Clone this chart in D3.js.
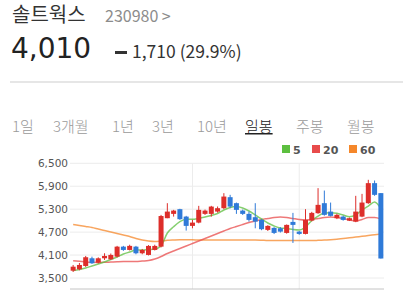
<!DOCTYPE html>
<head>
	<meta charset="utf-8">
	<script src="https://cdn.jsdelivr.net/npm/d3@7"></script>
	<style>
	    body { margin: 0; background: #fff; }
	    svg { display: block; }
	    .kr { font-family: "Noto Sans CJK KR", sans-serif; }
	    .num { font-family: "DejaVu Sans", sans-serif; }
	</style>
</head>
<body>
    <script>
        // stock header
        var stockName = "솔트웍스";
        var stockCode = "230980 >";
        var lastPrice = "4,010";
        var change = "1,710 (29.9%)";
        var tabs = ["1일", "3개월", "1년", "3년", "10년", "일봉", "주봉", "월봉"];
        var tabX = [12, 53, 112, 152, 197, 245, 296, 347];
        var activeTab = "일봉";

        // daily candles (open, high, low, close)
        var opens  = [3691,3728,3815,4016,3901,4016,3990,4058,4320,4234,4320,4147,4103,4234,4320,5064,5177,5300,5106,4863,
                      4949,5177,5177,5237,5326,5614,5457,5263,5177,5090,5020,4758,4810,4800,4679,4967,4713,4653,5001,5195,
                      5457,5237,5064,5106,5001,4975,5106,5457,5981,5720];
        var highs  = [3841,3893,4077,4058,4040,4147,4140,4340,4340,4370,4340,4260,4360,4370,5150,5457,5282,5310,5125,5020,
                      5387,5290,5387,5370,5719,5675,5473,5290,5237,5457,5040,4880,4830,4830,4900,5203,4730,5300,5230,5850,
                      5787,5473,5180,5130,5080,5649,5700,6068,6050,5720];
        var lows   = [3657,3701,3789,3867,3880,3972,3970,4040,4210,4220,4120,4120,4090,4220,4300,5064,5106,5020,4740,4800,
                      4930,5150,5106,5210,5300,5326,5177,5150,4975,4800,4750,4730,4650,4690,4660,4417,4630,4640,4980,5180,
                      5130,5110,5040,5000,4990,4960,5090,5440,5650,4010];
        var closes = [3796,3841,4043,3885,4016,4077,4103,4320,4234,4340,4147,4234,4339,4339,5121,5237,5263,5038,4863,4949,
                      5282,5263,5368,5326,5630,5368,5282,5177,5020,4975,4776,4863,4679,4713,4889,4889,4653,5020,5203,5413,
                      5151,5125,5151,5020,5064,5237,5473,5981,5675,4010];

        // moving averages
        var ma5  = [3696,3722,3761,3813,3866,3918,3983,4049,4127,4180,4232,4232,4245,4258,4337,4677,4841,4972,5035,5035,
                    5061,5095,5134,5187,5278,5344,5370,5331,5252,5148,5043,4938,4860,4807,4794,4768,4755,4834,5004,5121,
                    5200,5208,5192,5148,5103,5148,5278,5383,5488,5318];
        var ma20 = [3952,3936,3918,3910,3905,3910,3918,3926,3931,3931,3931,3944,3957,3996,4062,4140,4206,4271,4337,4402,
                    4467,4533,4598,4664,4729,4794,4847,4899,4951,4991,5030,5056,5082,5095,5082,5056,5030,5017,5030,5056,
                    5082,5095,5082,5056,5017,4991,5030,5082,5082,5043];
        var ma60 = [4899,4873,4847,4821,4781,4742,4703,4664,4624,4585,4533,4494,4467,4454,4467,4486,4494,4499,4499,4499,
                    4494,4494,4494,4494,4494,4494,4494,4494,4494,4494,4489,4480,4480,4480,4480,4480,4480,4480,4480,4486,
                    4494,4501,4514,4533,4551,4572,4590,4611,4630,4650];

        var yTicks = [3500, 4100, 4700, 5300, 5900, 6500];
        var monthStarts = [19, 36];
        var legendNames = ["5", "20", "60"];
        var maColors = ["#5cbf3f", "#e84b4b", "#f5872a"];

        var w = 403, h = 290;
        var plot = {left: 70, right: 384, top: 163.3, bottom: 289};

        var svg = d3.select("body").append("svg")
            .attr("width", w)
            .attr("height", h);

        // header
        svg.append("text").attr("class", "kr")
            .attr("x", 12).attr("y", 22)
            .attr("font-size", 20).attr("fill", "#333")
            .text(stockName);
        svg.append("text").attr("class", "kr")
            .attr("x", 105).attr("y", 22)
            .attr("font-size", 16).attr("fill", "#8c8c8c")
            .text(stockCode);
        svg.append("text").attr("class", "num")
            .attr("x", 11).attr("y", 58)
            .attr("font-size", 28).attr("fill", "#222")
            .text(lastPrice);
        svg.append("rect")
            .attr("x", 115).attr("y", 51).attr("width", 12).attr("height", 3)
            .attr("fill", "#333");
        svg.append("text").attr("class", "kr")
            .attr("x", 132).attr("y", 58)
            .attr("font-size", 17.5).attr("fill", "#333")
            .text(change);

        svg.append("line")
            .attr("x1", 10).attr("x2", w).attr("y1", 82).attr("y2", 82)
            .attr("stroke", "#e6e6e6").attr("stroke-width", 2);

        // period tabs
        svg.selectAll(".tab")
            .data(tabs)
            .enter()
            .append("text")
            .attr("class", "kr tab")
            .attr("x", function(d, i) { return tabX[i]; })
            .attr("y", 132)
            .attr("font-size", 15)
            .attr("font-weight", 300)
            .attr("fill", function(d) { return d === activeTab ? "#222" : "#9a9a9a"; })
            .attr("text-decoration", function(d) { return d === activeTab ? "underline" : null; })
            .text(function(d) { return d; });

        // legend
        var legendX = [282, 312, 349];
        var lg = svg.selectAll(".lg")
            .data(legendNames)
            .enter()
            .append("g")
            .attr("transform", function(d, i) { return "translate(" + legendX[i] + ",145)"; });
        lg.append("rect")
            .attr("width", 8).attr("height", 8)
            .attr("fill", function(d, i) { return maColors[i]; });
        lg.append("text").attr("class", "num")
            .attr("x", 11).attr("y", 8.5)
            .attr("font-size", 11).attr("font-weight", "bold").attr("fill", "#555")
            .text(function(d) { return d; });

        // scales
        var xScale = d3.scalePoint()
            .domain(d3.range(closes.length))
            .range([plot.left, plot.right])
            .padding(0.5);

        var yScale = d3.scaleLinear()
            .domain([3500, 6500])
            .range([278, plot.top]);

        // grid
        svg.selectAll(".hgrid")
            .data(yTicks)
            .enter()
            .append("line")
            .attr("x1", plot.left).attr("x2", plot.right)
            .attr("y1", function(d) { return yScale(d); })
            .attr("y2", function(d) { return yScale(d); })
            .attr("stroke", "#ececec");

        svg.selectAll(".vgrid")
            .data(monthStarts)
            .enter()
            .append("line")
            .attr("x1", function(d) { return xScale(d); })
            .attr("x2", function(d) { return xScale(d); })
            .attr("y1", plot.top).attr("y2", plot.bottom)
            .attr("stroke", "#ececec");

        var yAxis = svg.append("g")
            .attr("transform", "translate(68,0)")
            .call(d3.axisLeft(yScale).tickValues(yTicks).tickSize(0).tickPadding(0).tickFormat(d3.format(",")));
        yAxis.select(".domain").remove();
        yAxis.selectAll("text")
            .attr("font-family", "DejaVu Sans")
            .attr("font-size", 10.5)
            .attr("fill", "#555");

        svg.append("line")
            .attr("x1", plot.left).attr("x2", plot.right)
            .attr("y1", plot.bottom).attr("y2", plot.bottom)
            .attr("stroke", "#c4c4c4");

        // moving averages
        var maLine = d3.line()
            .x(function(d, i) { return xScale(i); })
            .y(function(d) { return yScale(d); })
            .curve(d3.curveMonotoneX);

        [ma60, ma20, ma5].forEach(function(series, k) {
            svg.append("path")
                .datum(series)
                .attr("d", maLine)
                .attr("fill", "none")
                .attr("stroke", maColors[2 - k])
                .attr("stroke-opacity", 0.75)
                .attr("stroke-width", 1.5);
        });

        // candles
        var candles = d3.range(closes.length).map(function(i) {
            return {i: i, o: opens[i], h: highs[i], l: lows[i], c: closes[i]};
        });
        var color = function(d) { return d.c >= d.o ? "#dd2e2a" : "#2f7ad8"; };

        var cg = svg.selectAll(".candle")
            .data(candles)
            .enter()
            .append("g");

        cg.append("line")
            .attr("x1", function(d) { return xScale(d.i); })
            .attr("x2", function(d) { return xScale(d.i); })
            .attr("y1", function(d) { return yScale(d.h); })
            .attr("y2", function(d) { return yScale(d.l); })
            .attr("stroke", color)
            .attr("stroke-width", 1);

        cg.append("rect")
            .attr("x", function(d) { return xScale(d.i) - 2.5; })
            .attr("y", function(d) { return yScale(Math.max(d.o, d.c)); })
            .attr("width", 5)
            .attr("height", function(d) { return Math.max(1.5, Math.abs(yScale(d.o) - yScale(d.c))); })
            .attr("fill", color);

    </script>
<body>
